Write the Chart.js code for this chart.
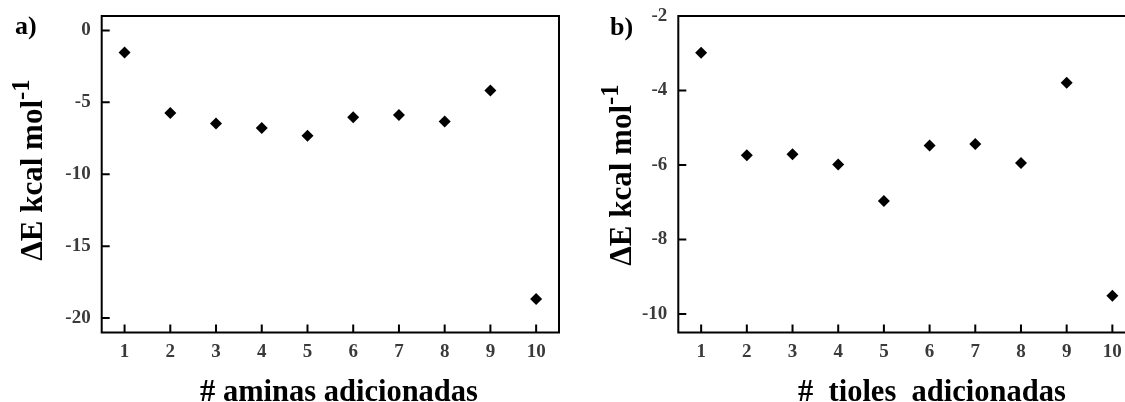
<!DOCTYPE html>
<html>
<head>
<meta charset="utf-8">
<script src="https://cdn.jsdelivr.net/npm/chart.js@4/dist/chart.umd.min.js"></script>
<style>
  html, body { margin: 0; padding: 0; background: #fff; }
  body { width: 1125px; height: 402px; overflow: hidden; position: relative; }
  canvas { position: absolute; top: 0; }
  #chartA { left: 0; }
  #chartB { left: 565px; }
  .lbl {
    position: absolute; white-space: pre; line-height: 1;
    font-family: "Liberation Serif", "Times New Roman", serif; font-weight: bold; color: #000;
  }
  .panel { font-size: 26px; }
  .xtitle { font-size: 30.5px; }
  .ytitle { font-size: 31px; transform: translate(-50%, -50%) rotate(-90deg); }
  .ytitle sup { font-size: 0.8em; line-height: 0; vertical-align: 0.5em; }
</style>
</head>
<body>
<canvas id="chartA" width="565" height="410"></canvas>
<canvas id="chartB" width="600" height="410"></canvas>

<div class="lbl panel" style="left:15px; top:13px;">a)</div>
<div class="lbl panel" style="left:610px; top:14px;">b)</div>
<div class="lbl ytitle" style="left:31px; top:170px;">ΔE kcal mol<sup>-1</sup></div>
<div class="lbl ytitle" style="left:620px; top:175px;">ΔE kcal mol<sup>-1</sup></div>
<div class="lbl xtitle" style="left:200px; top:376px;"># aminas adicionadas</div>
<div class="lbl xtitle" style="left:798px; top:376px;">#  tioles  adicionadas</div>

<script>
// number of added groups
const added = [1, 2, 3, 4, 5, 6, 7, 8, 9, 10];
// ΔE (kcal/mol)
const aminasDE = [-1.53, -5.75, -6.48, -6.78, -7.33, -6.04, -5.89, -6.33, -4.18, -18.67];
const tiolesDE = [-2.99, -5.74, -5.71, -5.99, -6.97, -5.48, -5.44, -5.95, -3.79, -9.51];

const xTicks = [1, 2, 3, 4, 5, 6, 7, 8, 9, 10];
const yTicksA = [0, -5, -10, -15, -20];
const yTicksB = [-2, -4, -6, -8, -10];

const tickFont = { family: '"Liberation Serif", "Times New Roman", serif', size: 19, weight: 'bold' };
const tickColor = '#3a3a3a';

// box around the plot area + inward tick marks
const framePlugin = {
  id: 'frame',
  afterDatasetsDraw(chart) {
    const { ctx, chartArea: a, scales: { x, y } } = chart;
    ctx.save();
    ctx.strokeStyle = '#000';
    ctx.lineWidth = 2;
    ctx.strokeRect(a.left, a.top, a.right - a.left, a.bottom - a.top);
    ctx.beginPath();
    x.ticks.forEach(t => {
      const px = x.getPixelForValue(t.value);
      ctx.moveTo(px, a.bottom);
      ctx.lineTo(px, a.bottom - 8);
    });
    y.ticks.forEach(t => {
      const py = y.getPixelForValue(t.value);
      ctx.moveTo(a.left, py);
      ctx.lineTo(a.left + 8, py);
    });
    ctx.stroke();
    ctx.restore();
  }
};

function makeChart(id, values, yMin, yMax, yTicks, yWidth, padRight) {
  return new Chart(document.getElementById(id), {
    type: 'scatter',
    data: {
      datasets: [{
        data: added.map((n, i) => ({ x: n, y: values[i] })),
        pointStyle: 'rectRot',
        pointRadius: 6,
        backgroundColor: '#000',
        borderColor: '#000',
        borderWidth: 0
      }]
    },
    options: {
      responsive: false,
      animation: false,
      events: [],
      layout: { padding: { left: 0, top: 16, right: padRight, bottom: 0 } },
      plugins: { legend: { display: false }, tooltip: { enabled: false } },
      scales: {
        x: {
          type: 'linear',
          min: 0.5,
          max: 10.5,
          afterBuildTicks: s => { s.ticks = xTicks.map(v => ({ value: v })); },
          afterFit: s => {
            s.height = 410 - 332.5;
            s.paddingLeft = 0;
            s.paddingRight = 0;
          },
          grid: { display: false, drawTicks: false },
          border: { display: false },
          ticks: { font: tickFont, color: tickColor, padding: 8, maxRotation: 0 }
        },
        y: {
          min: yMin,
          max: yMax,
          afterBuildTicks: s => { s.ticks = yTicks.map(v => ({ value: v })); },
          afterFit: s => {
            s.width = yWidth;
            s.paddingTop = 0;
            s.paddingBottom = 0;
          },
          grid: { display: false, drawTicks: false },
          border: { display: false },
          ticks: { font: tickFont, color: tickColor, padding: 11 }
        }
      }
    },
    plugins: [framePlugin]
  });
}

makeChart('chartA', aminasDE, -21, 1, yTicksA, 101.7, 4.3);
makeChart('chartB', tiolesDE, -10.5, -2, yTicksB, 113.3, 29.8);
</script>
</body>
</html>
